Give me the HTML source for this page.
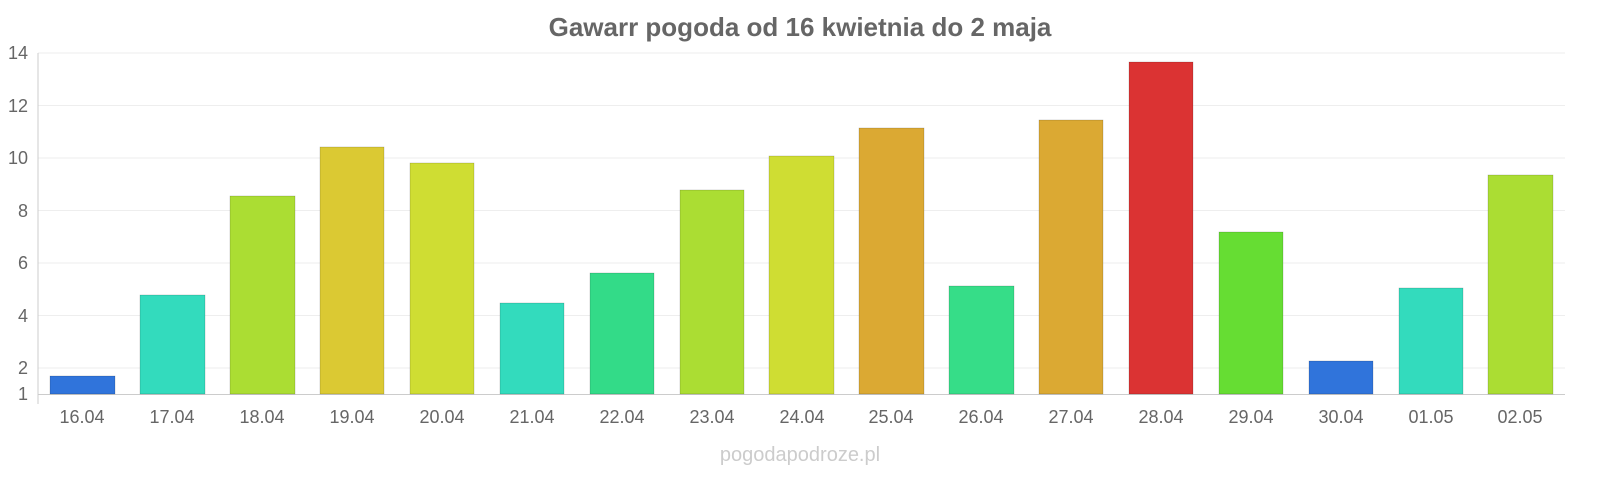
<!DOCTYPE html>
<html><head><meta charset="utf-8"><style>
body{margin:0;background:#fff;width:1600px;height:480px;overflow:hidden}
svg text{font-family:"Liberation Sans",sans-serif}
</style></head><body>
<svg width="1600" height="480" xmlns="http://www.w3.org/2000/svg">
<text x="800" y="36" text-anchor="middle" font-size="26" font-weight="bold" fill="#666">Gawarr pogoda od 16 kwietnia do 2 maja</text>
<g stroke="#eee" stroke-width="1">
<line x1="38" x2="1565" y1="53" y2="53"/><line x1="38" x2="1565" y1="105.5" y2="105.5"/>
<line x1="38" x2="1565" y1="158" y2="158"/><line x1="38" x2="1565" y1="210.5" y2="210.5"/>
<line x1="38" x2="1565" y1="263" y2="263"/><line x1="38" x2="1565" y1="315.5" y2="315.5"/>
<line x1="38" x2="1565" y1="368" y2="368"/>
</g>
<line x1="38" x2="38" y1="53" y2="404" stroke="#ccc"/>
<line x1="38" x2="1565" y1="394.5" y2="394.5" stroke="#ccc"/>
<g font-size="18" fill="#666" text-anchor="end">
<text x="28" y="59">14</text><text x="28" y="112">12</text><text x="28" y="164">10</text>
<text x="28" y="217">8</text><text x="28" y="269">6</text><text x="28" y="322">4</text>
<text x="28" y="374">2</text><text x="28" y="400">1</text>
</g>
<g stroke-opacity="0.3" stroke="#000" stroke-width="0.5">
<rect x="50" y="376" width="65" height="18" fill="#3074db"/>
<rect x="140" y="295" width="65" height="99" fill="#33dbbd"/>
<rect x="230" y="196" width="65" height="198" fill="#abdd33"/>
<rect x="320" y="147" width="64" height="247" fill="#dbc933"/>
<rect x="410" y="163" width="64" height="231" fill="#cfdd33"/>
<rect x="500" y="303" width="64" height="91" fill="#33dbbd"/>
<rect x="590" y="273" width="64" height="121" fill="#33db88"/>
<rect x="680" y="190" width="64" height="204" fill="#abdd33"/>
<rect x="769" y="156" width="65" height="238" fill="#cfdd33"/>
<rect x="859" y="128" width="65" height="266" fill="#dba933"/>
<rect x="949" y="286" width="65" height="108" fill="#36dd88"/>
<rect x="1039" y="120" width="64" height="274" fill="#dba933"/>
<rect x="1129" y="62" width="64" height="332" fill="#db3333"/>
<rect x="1219" y="232" width="64" height="162" fill="#66dd33"/>
<rect x="1309" y="361" width="64" height="33" fill="#3074db"/>
<rect x="1399" y="288" width="64" height="106" fill="#33dbbd"/>
<rect x="1488" y="175" width="65" height="219" fill="#abdd33"/>
</g>
<g font-size="18" fill="#666" text-anchor="middle">
<text x="82" y="423">16.04</text><text x="172" y="423">17.04</text><text x="262" y="423">18.04</text>
<text x="352" y="423">19.04</text><text x="442" y="423">20.04</text><text x="532" y="423">21.04</text>
<text x="622" y="423">22.04</text><text x="712" y="423">23.04</text><text x="802" y="423">24.04</text>
<text x="891" y="423">25.04</text><text x="981" y="423">26.04</text><text x="1071" y="423">27.04</text>
<text x="1161" y="423">28.04</text><text x="1251" y="423">29.04</text><text x="1341" y="423">30.04</text>
<text x="1431" y="423">01.05</text><text x="1520" y="423">02.05</text>
</g>
<text x="800" y="461" text-anchor="middle" font-size="20" fill="#ccc">pogodapodroze.pl</text>
</svg>
</body></html>
